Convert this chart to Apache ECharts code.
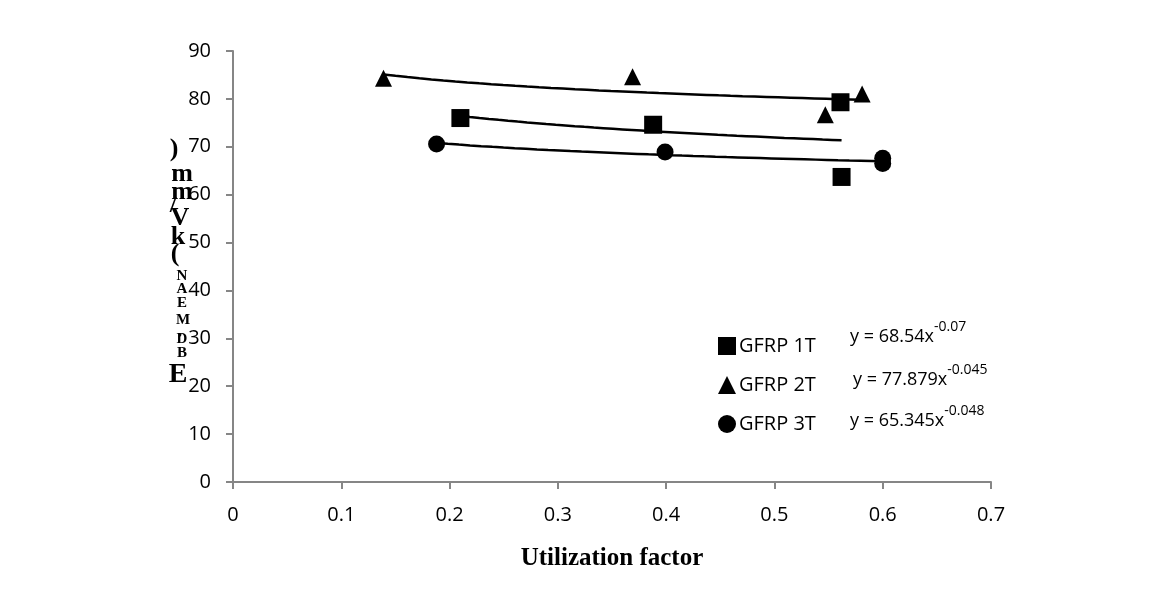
<!DOCTYPE html>
<html>
<head>
<meta charset="utf-8">
<script src="https://cdn.jsdelivr.net/npm/echarts@6/dist/echarts.min.js"></script>
<style>
html,body{margin:0;padding:0;background:#fff;}
#c{width:1152px;height:594px;}
</style>
</head>
<body>
<div id="c"></div>
<script>
// ---- data ----
const seriesNames = ['GFRP 1T', 'GFRP 2T', 'GFRP 3T'];
const gfrp1T = [[0.21, 76.0], [0.388, 74.6], [0.561, 79.3], [0.562, 63.7]];
const gfrp2T = [[0.139, 84.3], [0.369, 84.6], [0.547, 76.7], [0.581, 81.0]];
const gfrp3T = [[0.188, 70.6], [0.399, 68.9], [0.600, 67.6], [0.600, 66.5]];
// power trendline coefficients y = a * x^b, and x range of each fit
const fitA = [68.54, 77.879, 65.345];
const fitB = [-0.07, -0.045, -0.048];
const fitRange = [[0.21, 0.562], [0.139, 0.581], [0.188, 0.600]];
const eqLabels = ['y = 68.54x', 'y = 77.879x', 'y = 65.345x'];
const eqExponents = ['-0.07', '-0.045', '-0.048'];
const xTicks = [0, 0.1, 0.2, 0.3, 0.4, 0.5, 0.6, 0.7];
const yTicks = [0, 10, 20, 30, 40, 50, 60, 70, 80, 90];
const xTitle = 'Utilization factor';
// y-axis title as it appears: characters stacked top to bottom
const yTitleChars = [')', 'm', 'm', '/', 'V', 'k', '(', 'N', 'A', 'E', 'M', ',', 'D', 'B', 'E'];

// ---- layout (not data) ----
const yTitlePos = [[174,149,26],[182,174,26],[182,192,26],[173,206,24],[180,218,26],[178,237,26],[175,254,26],
  [182,276,15],[182,289,15],[182,303,15],[183,320,15],[180,331,15],[182,339,15],[182,353,15],[178,375,28]];
const eqPos = [[850, 333], [853, 376], [850, 417]];

function fitLine(i) {
  const pts = [];
  const n = 40;
  const x0 = fitRange[i][0], x1 = fitRange[i][1];
  for (let k = 0; k <= n; k++) {
    const x = x0 + (x1 - x0) * k / n;
    pts.push([x, fitA[i] * Math.pow(x, fitB[i])]);
  }
  return pts;
}

const chart = echarts.init(document.getElementById('c'));
const axisColor = '#868686';
const tickFont = {fontFamily: 'Open Sans', fontSize: 20, color: '#000'};

const graphics = [];
yTitleChars.forEach((ch, i) => {
  const p = yTitlePos[i];
  graphics.push({type: 'text', x: p[0], y: p[1], style: {text: ch, fill: '#000',
    font: 'bold ' + p[2] + 'px "Liberation Serif"', textAlign: 'center', textVerticalAlign: 'middle'}});
});
eqLabels.forEach((t, i) => {
  graphics.push({type: 'text', x: eqPos[i][0], y: eqPos[i][1], style: {
    text: '{b|' + t + '}{s|' + eqExponents[i] + '}',
    rich: {b: {fontFamily: 'Open Sans', fontSize: 18, color: '#000', verticalAlign: 'bottom', lineHeight: 26},
           s: {fontFamily: 'Open Sans', fontSize: 14, color: '#000', verticalAlign: 'top', lineHeight: 26}},
    textVerticalAlign: 'middle'}});
});

chart.setOption({
  animation: false,
  backgroundColor: '#fff',
  grid: {left: 233, right: 161, top: 51, bottom: 112, containLabel: false},
  xAxis: {
    type: 'value', min: 0, max: 0.7, interval: 0.1,
    name: xTitle, nameLocation: 'middle', nameGap: 64,
    nameTextStyle: {fontFamily: 'Liberation Serif', fontWeight: 'bold', fontSize: 25, color: '#000'},
    axisLine: {show: true, onZero: false, lineStyle: {color: axisColor, width: 2}},
    axisTick: {show: true, length: 7, lineStyle: {color: axisColor, width: 2}},
    axisLabel: Object.assign({margin: 23, formatter: v => String(+v.toFixed(1))}, tickFont),
    splitLine: {show: false}
  },
  yAxis: {
    type: 'value', min: 0, max: 90, interval: 10,
    axisLine: {show: true, lineStyle: {color: axisColor, width: 2}},
    axisTick: {show: true, length: 7, lineStyle: {color: axisColor, width: 2}},
    axisLabel: Object.assign({margin: 22}, tickFont),
    splitLine: {show: false}
  },
  legend: {
    data: [
      {name: seriesNames[0], icon: 'rect'},
      {name: seriesNames[1], icon: 'triangle'},
      {name: seriesNames[2], icon: 'circle'}
    ],
    orient: 'vertical', left: 713, top: 331, itemWidth: 18, itemHeight: 18, itemGap: 19, itemStyle: {opacity: 1},
    textStyle: {fontFamily: 'Open Sans', fontSize: 20, color: '#000', padding: [0, 0, 0, -2]},
    selectedMode: false
  },
  graphic: graphics,
  series: [
    {name: seriesNames[0], type: 'scatter', data: gfrp1T, symbol: 'rect', symbolSize: 18, itemStyle: {color: '#000', opacity: 1}, z: 3},
    {name: seriesNames[1], type: 'scatter', data: gfrp2T, symbol: 'triangle', symbolSize: 17, itemStyle: {color: '#000', opacity: 1}, z: 3},
    {name: seriesNames[2], type: 'scatter', data: gfrp3T, symbol: 'circle', symbolSize: 17, itemStyle: {color: '#000', opacity: 1}, z: 3},
    {name: 'fit1', type: 'line', data: fitLine(0), showSymbol: false, lineStyle: {color: '#000', width: 2.5}, z: 2},
    {name: 'fit2', type: 'line', data: fitLine(1), showSymbol: false, lineStyle: {color: '#000', width: 2.5}, z: 2},
    {name: 'fit3', type: 'line', data: fitLine(2), showSymbol: false, lineStyle: {color: '#000', width: 2.5}, z: 2}
  ]
});
</script>
</body>
</html>
